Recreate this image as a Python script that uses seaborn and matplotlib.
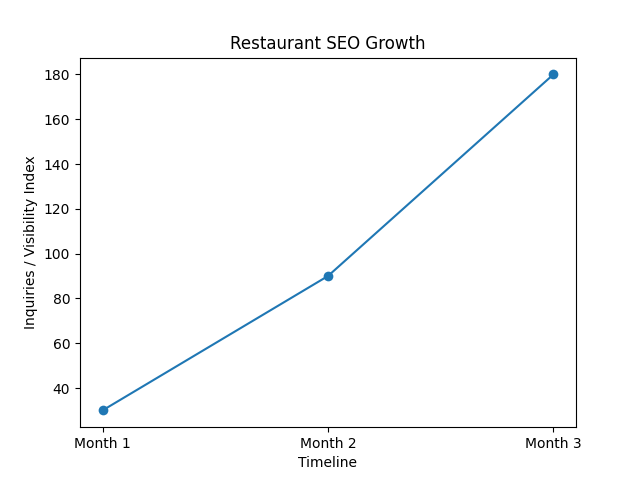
import matplotlib
matplotlib.use("Agg")
import matplotlib.pyplot as plt
import seaborn as sns
import pandas as pd

months = ["Month 1", "Month 2", "Month 3"]
values = [30, 90, 180]

df = pd.DataFrame({"Timeline": months, "Value": values})
fig, ax = plt.subplots(figsize=(6.4, 4.8), dpi=100)
sns.lineplot(data=df, x="Timeline", y="Value", marker="o", markersize=7,
             markeredgewidth=0, color="#1f77b4", ax=ax, sort=False)
ax.set_title("Restaurant SEO Growth")
ax.set_xlabel("Timeline")
ax.set_ylabel("Inquiries / Visibility Index")
fig.savefig("out.png")
